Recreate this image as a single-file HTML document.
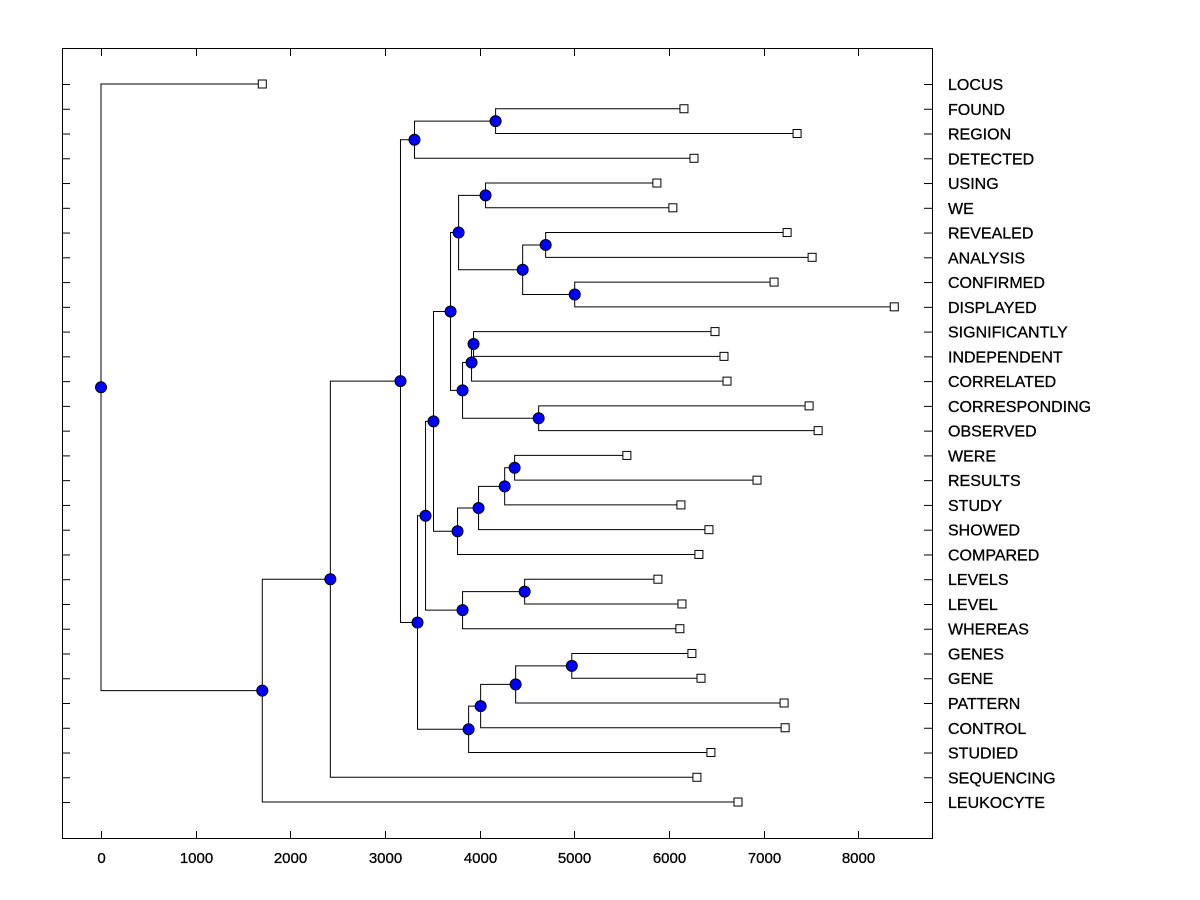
<!DOCTYPE html>
<html><head><meta charset="utf-8"><style>
html,body{margin:0;padding:0;background:#fff;}
svg{display:block;font-family:"Liberation Sans",Arial,sans-serif;}
</style></head><body>
<svg id="chart" width="1200" height="900" viewBox="0 0 1200 900">
<rect x="62.5" y="48.5" width="870" height="790" fill="none" stroke="#000" stroke-width="1"/>
<g id="axis"></g>
<g id="links"></g>
<g id="nodes"></g>
<g id="labels"></g>
</svg>
<script>
const leafNames = ["LOCUS","FOUND","REGION","DETECTED","USING","WE","REVEALED","ANALYSIS","CONFIRMED","DISPLAYED","SIGNIFICANTLY","INDEPENDENT","CORRELATED","CORRESPONDING","OBSERVED","WERE","RESULTS","STUDY","SHOWED","COMPARED","LEVELS","LEVEL","WHEREAS","GENES","GENE","PATTERN","CONTROL","STUDIED","SEQUENCING","LEUKOCYTE"];
const leafValues = [1704,6159,7354,6265,5873,6042,7249,7513,7111,8381,6487,6582,6614,7481,7577,5556,6931,6127,6423,6317,5884,6138,6116,6243,6339,7217,7228,6444,6296,6730];
// merge heights (distance at which clusters join)
const mergeHeights = {
  root:0, n1:1704, n2:2423, n3:3164, n4:3312, n6:4169, n5:3344, n7:3429, n9:3513,
  n11:3693, n13:3778, n15:4063, n16:4455, n17:4698, n18:5005, n14:3820, n19:3915,
  n21:3936, n20:4624, n12:3767, n22:3989, n23:4265, n24:4370, n10:3820, n25:4476,
  n8:3884, n26:4011, n27:4381, n28:4974
};
const xTicks = [0,1000,2000,3000,4000,5000,6000,7000,8000];
</script>
<script>
const NS="http://www.w3.org/2000/svg";
const xScale=v=>101+v*0.09465;
const yScale=i=>84+i*24.76;
function mk(tag,attrs,parent){const e=document.createElementNS(NS,tag);for(const k in attrs)e.setAttribute(k,attrs[k]);parent.appendChild(e);return e;}
const M=mergeHeights;
const N=(k,...c)=>({h:M[k],c});
const L=i=>({l:i});
const tree=N('root',L(0),
  N('n1',
    N('n2',
      N('n3',
        N('n4',N('n6',L(1),L(2)),L(3)),
        N('n5',
          N('n7',
            N('n9',
              N('n11',
                N('n13',N('n15',L(4),L(5)),N('n16',N('n17',L(6),L(7)),N('n18',L(8),L(9)))),
                N('n14',N('n19',N('n21',L(10),L(11)),L(12)),N('n20',L(13),L(14)))),
              N('n12',N('n22',N('n23',N('n24',L(15),L(16)),L(17)),L(18)),L(19))),
            N('n10',N('n25',L(20),L(21)),L(22))),
          N('n8',N('n26',N('n27',N('n28',L(23),L(24)),L(25)),L(26)),L(27)))),
      L(28)),
    L(29)));
const links=document.getElementById('links'),nodes=document.getElementById('nodes'),labels=document.getElementById('labels'),axis=document.getElementById('axis');
function layout(n){
  if(n.l!==undefined){n.x=xScale(leafValues[n.l]);n.y=yScale(n.l);return;}
  n.c.forEach(layout);n.x=xScale(n.h);n.y=(n.c[0].y+n.c[n.c.length-1].y)/2;
}
layout(tree);
function draw(n){
  if(n.l!==undefined)return;
  n.c.forEach(ch=>{
    const p=mk('polyline',{points:`${n.x},${n.y} ${n.x},${ch.y} ${ch.x},${ch.y}`,fill:'none',stroke:'#000','stroke-width':1},links);
    
    
    draw(ch);
  });
  const c=mk('circle',{cx:n.x,cy:n.y,r:5.5,fill:'#0000ff',stroke:'#000','stroke-width':1},nodes);
  
  
}
draw(tree);
leafNames.forEach((nm,i)=>{
  const y=yScale(i),x=xScale(leafValues[i]);
  const r=mk('rect',{x:x-4,y:y-4,width:8,height:8,fill:'#fff',stroke:'#000','stroke-width':1},nodes);
  
  
  const t1=mk('line',{x1:62,x2:70,y1:y+0.5,y2:y+0.5,stroke:'#000'},axis);
  
  
  const t2=mk('line',{x1:924,x2:932,y1:y+0.5,y2:y+0.5,stroke:'#000'},axis);
  
  
  const t=mk('text',{x:948,y:y+6,'font-size':16,fill:'#000',stroke:'#000','stroke-width':0.3},labels);
  t.textContent=nm;
  
  
});
xTicks.forEach(v=>{
  const x=Math.round(xScale(v))+0.5;
  const a=mk('line',{x1:x,x2:x,y1:831,y2:838,stroke:'#000'},axis);
  
  
  const b=mk('line',{x1:x,x2:x,y1:49,y2:56,stroke:'#000'},axis);
  
  
  const t=mk('text',{x:x,y:863,'font-size':15,'text-anchor':'middle',fill:'#000',stroke:'#000','stroke-width':0.3},axis);
  t.textContent=v;
  
  
});
</script>
</body></html>
